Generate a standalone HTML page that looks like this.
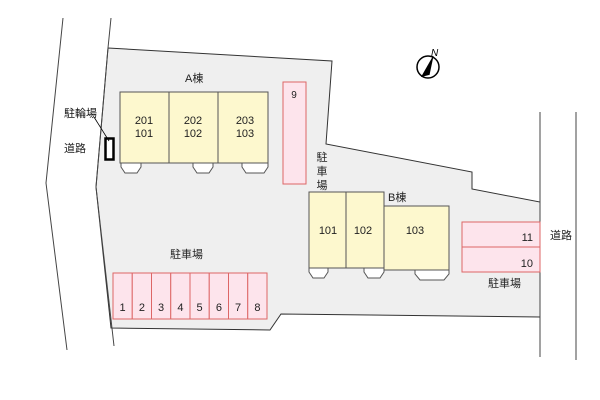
<!DOCTYPE html>
<html><head><meta charset="utf-8"><style>html,body{margin:0;padding:0;background:#fff}svg{display:block}</style></head>
<body>
<svg width="600" height="400" viewBox="0 0 600 400" xmlns="http://www.w3.org/2000/svg" font-family="Liberation Sans, Noto Sans CJK JP, sans-serif">
<rect width="600" height="400" fill="#fff"/>
<polygon points="108,48 332,61 326,144 472,172 472,189 540,202 540,317 281,314 270,330 111,328 96,187" fill="#efefef" stroke="#333" stroke-width="1"/>
<rect x="100" y="40" width="3" height="3" fill="none"/>
<!-- left road lines -->
<polyline points="63,18 46,183 67,350" fill="none" stroke="#444" stroke-width="1"/>
<polyline points="111,18 108,48 96,187 114,346" fill="none" stroke="#444" stroke-width="1"/>
<!-- right road -->
<line x1="540" y1="112" x2="540" y2="357" stroke="#444"/>
<line x1="576" y1="112" x2="576" y2="360" stroke="#444"/>
<!-- A building -->
<g stroke="#555" fill="#fff">
<path d="M121,163 h20 v4 l-4,6 h-12 l-4,-6z"/>
<path d="M193,163 h20 v4 l-4,6 h-12 l-4,-6z"/>
<path d="M242,163 h26 v4 l-4,6 h-18 l-4,-6z"/>
</g>
<rect x="120" y="92" width="148" height="71" fill="#fdf8ce" stroke="#555"/>
<line x1="169" y1="92" x2="169" y2="163" stroke="#555"/>
<line x1="218" y1="92" x2="218" y2="163" stroke="#555"/>
<g font-size="11" text-anchor="middle" fill="#222">
<text x="144" y="124">201</text><text x="144" y="137">101</text>
<text x="193" y="124">202</text><text x="193" y="137">102</text>
<text x="245" y="124">203</text><text x="245" y="137">103</text>
</g>
<text x="185" y="82" font-size="11" fill="#222">A棟</text>
<!-- parking 9 -->
<rect x="283" y="82" width="23" height="102" fill="#fde4ec" stroke="#d66"/>
<text x="294" y="98" font-size="10" text-anchor="middle" fill="#222">9</text>
<g font-size="11" fill="#222" text-anchor="middle">
<text x="322" y="161">駐</text><text x="322" y="175">車</text><text x="322" y="189">場</text>
</g>
<!-- B building -->
<g stroke="#555" fill="#fff">
<path d="M309,268 h19 v4 l-4,6 h-11 l-4,-6z"/>
<path d="M364,268 h20 v4 l-4,6 h-12 l-4,-6z"/>
<path d="M415,270 h34 v4 l-5,6 h-24 l-5,-6z"/>
</g>
<rect x="309" y="192" width="37" height="76" fill="#fdf8ce" stroke="#555"/>
<rect x="346" y="192" width="38" height="76" fill="#fdf8ce" stroke="#555"/>
<rect x="384" y="206" width="65" height="64" fill="#fdf8ce" stroke="#555"/>
<g font-size="11" text-anchor="middle" fill="#222">
<text x="328" y="234">101</text><text x="363" y="234">102</text><text x="415" y="234">103</text>
</g>
<text x="388" y="201" font-size="11" fill="#222">B棟</text>
<!-- parking 10/11 -->
<rect x="462" y="222" width="78" height="25" fill="#fde4ec" stroke="#d66"/>
<rect x="462" y="247" width="78" height="25" fill="#fde4ec" stroke="#d66"/>
<text x="533" y="241" font-size="11" text-anchor="end" fill="#222">11</text>
<text x="533" y="267" font-size="11" text-anchor="end" fill="#222">10</text>
<text x="488" y="287" font-size="11" fill="#222">駐車場</text>
<text x="550" y="239" font-size="11" fill="#222">道路</text>
<!-- parking 1-8 -->
<g fill="#fde4ec" stroke="#d66">
<rect x="113" y="273" width="19.25" height="46"/><rect x="132.25" y="273" width="19.25" height="46"/>
<rect x="151.5" y="273" width="19.25" height="46"/><rect x="170.75" y="273" width="19.25" height="46"/>
<rect x="190" y="273" width="19.25" height="46"/><rect x="209.25" y="273" width="19.25" height="46"/>
<rect x="228.5" y="273" width="19.25" height="46"/><rect x="247.75" y="273" width="19.25" height="46"/>
</g>
<g font-size="11" text-anchor="middle" fill="#222">
<text x="122.6" y="311">1</text><text x="141.9" y="311">2</text><text x="161.1" y="311">3</text><text x="180.4" y="311">4</text>
<text x="199.6" y="311">5</text><text x="218.9" y="311">6</text><text x="238.1" y="311">7</text><text x="257.4" y="311">8</text>
</g>
<text x="170" y="258" font-size="11" fill="#222">駐車場</text>
<!-- bike -->
<rect x="105.5" y="138.5" width="8" height="21" fill="#fff" stroke="#000" stroke-width="2.5"/>
<line x1="94" y1="117" x2="109" y2="141" stroke="#000" stroke-width="0.8"/>
<text x="64" y="117" font-size="11" fill="#111">駐輪場</text>
<text x="64" y="152" font-size="11" fill="#222">道路</text>
<!-- compass -->
<circle cx="428" cy="67" r="11" fill="#fff" stroke="#000" stroke-width="1.5"/>
<polygon points="433,56 421,77 429,75" fill="#000"/>
<line x1="433" y1="56" x2="429" y2="75" stroke="#000"/>
<text x="431" y="56" font-size="10" font-style="italic" fill="#000">N</text>
</svg>
</body></html>
